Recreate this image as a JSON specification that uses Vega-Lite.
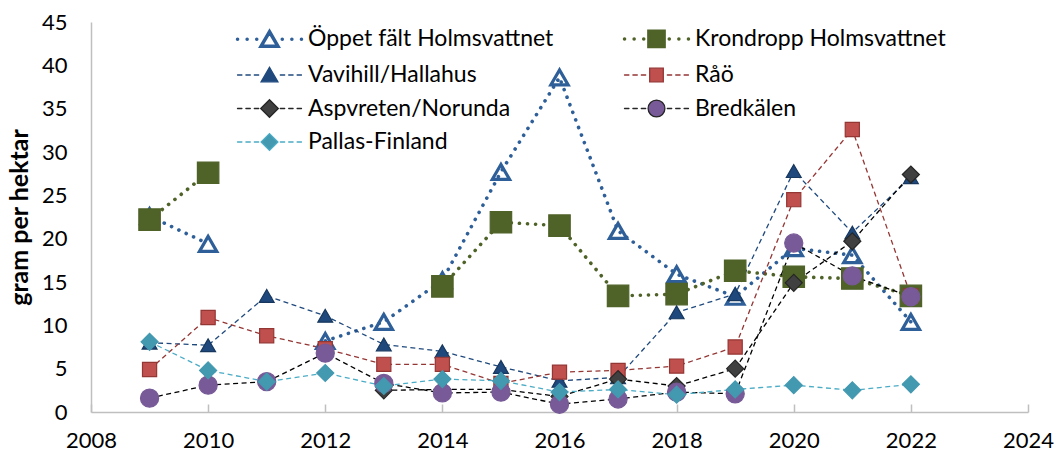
{
  "$schema": "https://vega.github.io/schema/vega-lite/v6.json",
  "width": 937,
  "height": 390,
  "autosize": {"type": "none"},
  "padding": {"left": 91, "top": 22, "right": 33, "bottom": 48},
  "background": "white",
  "config": {
    "view": {"stroke": null},
    "font": "Lato",
    "axis": {"grid": false, "labelFont": "Lato", "labelFontSize": 22, "labelColor": "#000000", "domainColor": "#BFBFBF", "domainWidth": 1.5, "tickColor": "#BFBFBF", "tickWidth": 1.5, "titleFont": "Lato"},
    "legend": {"orient": "none", "legendX": 143, "legendY": 5, "columns": 2, "direction": "horizontal", "symbolSize": 256, "symbolOffset": 24, "labelOffset": 27, "labelFont": "Lato", "labelFontSize": 23, "labelColor": "#000000", "labelLimit": 500, "rowPadding": 9.5, "columnPadding": 63, "padding": 0, "symbolStrokeWidth": 1.3, "symbolOpacity": 1}
  },
  "data": {
    "values": [
      {"year": 2009, "series": "Öppet fält Holmsvattnet", "value": 22.6},
      {"year": 2010, "series": "Öppet fält Holmsvattnet", "value": 19.4},
      {"year": 2011, "series": "Öppet fält Holmsvattnet", "value": null},
      {"year": 2012, "series": "Öppet fält Holmsvattnet", "value": 8.2},
      {"year": 2013, "series": "Öppet fält Holmsvattnet", "value": 10.4},
      {"year": 2014, "series": "Öppet fält Holmsvattnet", "value": 15.2},
      {"year": 2015, "series": "Öppet fält Holmsvattnet", "value": 27.7},
      {"year": 2016, "series": "Öppet fält Holmsvattnet", "value": 38.6},
      {"year": 2017, "series": "Öppet fält Holmsvattnet", "value": 20.9},
      {"year": 2018, "series": "Öppet fält Holmsvattnet", "value": 15.9},
      {"year": 2019, "series": "Öppet fält Holmsvattnet", "value": 13.3},
      {"year": 2020, "series": "Öppet fält Holmsvattnet", "value": 18.9},
      {"year": 2021, "series": "Öppet fält Holmsvattnet", "value": 18.1},
      {"year": 2022, "series": "Öppet fält Holmsvattnet", "value": 10.4},
      {"year": 2009, "series": "Krondropp Holmsvattnet", "value": 22.2},
      {"year": 2010, "series": "Krondropp Holmsvattnet", "value": 27.6},
      {"year": 2011, "series": "Krondropp Holmsvattnet", "value": null},
      {"year": 2012, "series": "Krondropp Holmsvattnet", "value": null},
      {"year": 2013, "series": "Krondropp Holmsvattnet", "value": null},
      {"year": 2014, "series": "Krondropp Holmsvattnet", "value": 14.5},
      {"year": 2015, "series": "Krondropp Holmsvattnet", "value": 21.9},
      {"year": 2016, "series": "Krondropp Holmsvattnet", "value": 21.5},
      {"year": 2017, "series": "Krondropp Holmsvattnet", "value": 13.4},
      {"year": 2018, "series": "Krondropp Holmsvattnet", "value": 13.6},
      {"year": 2019, "series": "Krondropp Holmsvattnet", "value": 16.3},
      {"year": 2020, "series": "Krondropp Holmsvattnet", "value": 15.6},
      {"year": 2021, "series": "Krondropp Holmsvattnet", "value": 15.4},
      {"year": 2022, "series": "Krondropp Holmsvattnet", "value": 13.4},
      {"year": 2009, "series": "Vavihill/Hallahus", "value": 8.0},
      {"year": 2010, "series": "Vavihill/Hallahus", "value": 7.7},
      {"year": 2011, "series": "Vavihill/Hallahus", "value": 13.4},
      {"year": 2012, "series": "Vavihill/Hallahus", "value": 11.1},
      {"year": 2013, "series": "Vavihill/Hallahus", "value": 7.8},
      {"year": 2014, "series": "Vavihill/Hallahus", "value": 7.0},
      {"year": 2015, "series": "Vavihill/Hallahus", "value": 5.2},
      {"year": 2016, "series": "Vavihill/Hallahus", "value": 3.6},
      {"year": 2017, "series": "Vavihill/Hallahus", "value": 4.0},
      {"year": 2018, "series": "Vavihill/Hallahus", "value": 11.5},
      {"year": 2019, "series": "Vavihill/Hallahus", "value": 13.6},
      {"year": 2020, "series": "Vavihill/Hallahus", "value": 27.8},
      {"year": 2021, "series": "Vavihill/Hallahus", "value": 20.7},
      {"year": 2022, "series": "Vavihill/Hallahus", "value": 27.1},
      {"year": 2009, "series": "Råö", "value": 4.9},
      {"year": 2010, "series": "Råö", "value": 10.9},
      {"year": 2011, "series": "Råö", "value": 8.8},
      {"year": 2012, "series": "Råö", "value": 7.3},
      {"year": 2013, "series": "Råö", "value": 5.5},
      {"year": 2014, "series": "Råö", "value": 5.5},
      {"year": 2015, "series": "Råö", "value": 3.3},
      {"year": 2016, "series": "Råö", "value": 4.6},
      {"year": 2017, "series": "Råö", "value": 4.8},
      {"year": 2018, "series": "Råö", "value": 5.3},
      {"year": 2019, "series": "Råö", "value": 7.5},
      {"year": 2020, "series": "Råö", "value": 24.5},
      {"year": 2021, "series": "Råö", "value": 32.6},
      {"year": 2022, "series": "Råö", "value": 13.4},
      {"year": 2013, "series": "Aspvreten/Norunda", "value": 2.5},
      {"year": 2014, "series": "Aspvreten/Norunda", "value": 2.6},
      {"year": 2015, "series": "Aspvreten/Norunda", "value": 2.6},
      {"year": 2016, "series": "Aspvreten/Norunda", "value": 1.8},
      {"year": 2017, "series": "Aspvreten/Norunda", "value": 3.8},
      {"year": 2018, "series": "Aspvreten/Norunda", "value": 3.0},
      {"year": 2019, "series": "Aspvreten/Norunda", "value": 5.0},
      {"year": 2020, "series": "Aspvreten/Norunda", "value": 14.9},
      {"year": 2021, "series": "Aspvreten/Norunda", "value": 19.7},
      {"year": 2022, "series": "Aspvreten/Norunda", "value": 27.4},
      {"year": 2009, "series": "Bredkälen", "value": 1.6},
      {"year": 2010, "series": "Bredkälen", "value": 3.1},
      {"year": 2011, "series": "Bredkälen", "value": 3.5},
      {"year": 2012, "series": "Bredkälen", "value": 6.8},
      {"year": 2013, "series": "Bredkälen", "value": 3.3},
      {"year": 2014, "series": "Bredkälen", "value": 2.2},
      {"year": 2015, "series": "Bredkälen", "value": 2.3},
      {"year": 2016, "series": "Bredkälen", "value": 0.9},
      {"year": 2017, "series": "Bredkälen", "value": 1.5},
      {"year": 2018, "series": "Bredkälen", "value": 2.3},
      {"year": 2019, "series": "Bredkälen", "value": 2.1},
      {"year": 2020, "series": "Bredkälen", "value": 19.5},
      {"year": 2021, "series": "Bredkälen", "value": 15.7},
      {"year": 2022, "series": "Bredkälen", "value": 13.3},
      {"year": 2009, "series": "Pallas-Finland", "value": 8.1},
      {"year": 2010, "series": "Pallas-Finland", "value": 4.8},
      {"year": 2011, "series": "Pallas-Finland", "value": 3.5},
      {"year": 2012, "series": "Pallas-Finland", "value": 4.5},
      {"year": 2013, "series": "Pallas-Finland", "value": 3.0},
      {"year": 2014, "series": "Pallas-Finland", "value": 3.8},
      {"year": 2015, "series": "Pallas-Finland", "value": 3.6},
      {"year": 2016, "series": "Pallas-Finland", "value": 2.3},
      {"year": 2017, "series": "Pallas-Finland", "value": 2.6},
      {"year": 2018, "series": "Pallas-Finland", "value": 2.0},
      {"year": 2019, "series": "Pallas-Finland", "value": 2.6},
      {"year": 2020, "series": "Pallas-Finland", "value": 3.1},
      {"year": 2021, "series": "Pallas-Finland", "value": 2.5},
      {"year": 2022, "series": "Pallas-Finland", "value": 3.2}
    ]
  },
  "encoding": {
    "x": {
      "field": "year", "type": "quantitative",
      "scale": {"domain": [2008, 2024], "nice": false, "zero": false},
      "axis": {"title": null, "values": [2008, 2010, 2012, 2014, 2016, 2018, 2020, 2022, 2024], "format": "d", "labelFlush": false, "tickSize": -8, "labelPadding": 26}
    },
    "y": {
      "field": "value", "type": "quantitative",
      "scale": {"domain": [0, 45], "nice": false},
      "axis": {"title": "gram per hektar", "titleFontSize": 25, "titleFontWeight": "bold", "titleColor": "#000000", "titlePadding": 9, "values": [0, 5, 10, 15, 20, 25, 30, 35, 40, 45], "ticks": false, "labelPadding": 24}
    }
  },
  "layer": [
    {
      "transform": [{"filter": {"field": "series", "oneOf": ["Öppet fält Holmsvattnet", "Krondropp Holmsvattnet"]}}],
      "mark": {"type": "line", "strokeWidth": 3.6, "strokeDash": [0.1, 8], "strokeCap": "round"},
      "encoding": {
        "stroke": {"field": "series", "type": "nominal", "legend": null,
          "scale": {"domain": ["Öppet fält Holmsvattnet", "Krondropp Holmsvattnet"], "range": ["#2F5F98", "#4F6228"]}},
        "detail": {"field": "series"}
      }
    },
    {
      "transform": [{"filter": {"field": "series", "oneOf": ["Vavihill/Hallahus", "Råö", "Aspvreten/Norunda", "Bredkälen", "Pallas-Finland"]}}],
      "mark": {"type": "line", "strokeWidth": 1.3, "strokeDash": [5, 3.5]},
      "encoding": {
        "stroke": {"field": "series", "type": "nominal", "legend": null,
          "scale": {"domain": ["Vavihill/Hallahus", "Råö", "Aspvreten/Norunda", "Bredkälen", "Pallas-Finland"], "range": ["#1F497D", "#943634", "#000000", "#000000", "#4BACC6"]}},
        "detail": {"field": "series"}
      }
    },
    {
      "mark": {"type": "point", "filled": true, "opacity": 1},
      "encoding": {
        "shape": {"field": "series", "type": "nominal", "legend": null,
          "scale": {"domain": ["Öppet fält Holmsvattnet", "Krondropp Holmsvattnet", "Vavihill/Hallahus", "Råö", "Aspvreten/Norunda", "Bredkälen", "Pallas-Finland"],
                    "range": ["triangle-up", "square", "triangle-up", "square", "diamond", "circle", "diamond"]}},
        "fill": {"field": "series", "type": "nominal", "legend": null,
          "scale": {"domain": ["Öppet fält Holmsvattnet", "Krondropp Holmsvattnet", "Vavihill/Hallahus", "Råö", "Aspvreten/Norunda", "Bredkälen", "Pallas-Finland"],
                    "range": ["transparent", "#4F6228", "#1F497D", "#C0504D", "#404040", "#775A97", "#4399B0"]}},
        "stroke": {"field": "series", "type": "nominal", "legend": null,
          "scale": {"domain": ["Öppet fält Holmsvattnet", "Krondropp Holmsvattnet", "Vavihill/Hallahus", "Råö", "Aspvreten/Norunda", "Bredkälen", "Pallas-Finland"],
                    "range": ["#2F5F98", "#4F6228", "#17375E", "#943634", "#262626", "#775A97", "#4399B0"]}},
        "strokeWidth": {"condition": {"test": "datum.series === 'Öppet fält Holmsvattnet'", "value": 3.2}, "value": 1.2},
        "size": {"condition": [
          {"test": "datum.series === 'Öppet fält Holmsvattnet'", "value": 300},
          {"test": "datum.series === 'Krondropp Holmsvattnet'", "value": 460},
          {"test": "datum.series === 'Vavihill/Hallahus'", "value": 220},
          {"test": "datum.series === 'Råö'", "value": 200},
          {"test": "datum.series === 'Bredkälen'", "value": 330}
        ], "value": 290}
      }
    },
    {
      "transform": [{"filter": "false"}],
      "mark": {"type": "point", "filled": true, "opacity": 1},
      "encoding": {
        "shape": {"field": "series", "type": "nominal",
          "scale": {"domain": ["Öppet fält Holmsvattnet", "Krondropp Holmsvattnet", "Vavihill/Hallahus", "Råö", "Aspvreten/Norunda", "Bredkälen", "Pallas-Finland"],
                    "range": [
                      "M-4,0L-3.99,0M-2.8,0L-2.79,0M-1.6,0L-1.59,0M1.59,0L1.6,0M2.79,0L2.8,0M3.99,0L4,0M0,-0.95L1.05,0.85L-1.05,0.85Z",
                      "M-4,0L-3.99,0M-2.8,0L-2.79,0M-1.6,0L-1.59,0M1.59,0L1.6,0M2.79,0L2.8,0M3.99,0L4,0M-0.95,-0.95L0.95,-0.95L0.95,0.95L-0.95,0.95Z",
                      "M-4,0L-3.45,0M-2.95,0L-2.4,0M-1.9,0L-1.35,0M1.35,0L1.9,0M2.4,0L2.95,0M3.45,0L4,0M0,-0.95L1.05,0.85L-1.05,0.85Z",
                      "M-4,0L-3.45,0M-2.95,0L-2.4,0M-1.9,0L-1.35,0M1.35,0L1.9,0M2.4,0L2.95,0M3.45,0L4,0M-0.85,-0.85L0.85,-0.85L0.85,0.85L-0.85,0.85Z",
                      "M-4,0L-3.45,0M-2.95,0L-2.4,0M-1.9,0L-1.35,0M1.35,0L1.9,0M2.4,0L2.95,0M3.45,0L4,0M0,-1.1L1.1,0L0,1.1L-1.1,0Z",
                      "M-4,0L-3.45,0M-2.95,0L-2.4,0M-1.9,0L-1.35,0M1.35,0L1.9,0M2.4,0L2.95,0M3.45,0L4,0M1.05,0A1.05,1.05,0,1,1,-1.05,0A1.05,1.05,0,1,1,1.05,0Z",
                      "M-4,0L-3.45,0M-2.95,0L-2.4,0M-1.9,0L-1.35,0M1.35,0L1.9,0M2.4,0L2.95,0M3.45,0L4,0M0,-1.05L1.05,0L0,1.05L-1.05,0Z"
                    ]},
          "legend": {"title": null,
            "encode": {"symbols": {"update": {"strokeWidth": {"signal": "datum.value === 'Öppet fält Holmsvattnet' || datum.value === 'Krondropp Holmsvattnet' ? 3.5 : 1.3"}, "strokeCap": {"value": "round"}}}}}
        },
        "fill": {"field": "series", "type": "nominal",
          "scale": {"domain": ["Öppet fält Holmsvattnet", "Krondropp Holmsvattnet", "Vavihill/Hallahus", "Råö", "Aspvreten/Norunda", "Bredkälen", "Pallas-Finland"],
                    "range": ["transparent", "#4F6228", "#1F497D", "#C0504D", "#404040", "#775A97", "#4399B0"]},
          "legend": {"title": null,
            "encode": {"symbols": {"update": {"strokeWidth": {"signal": "datum.value === 'Öppet fält Holmsvattnet' || datum.value === 'Krondropp Holmsvattnet' ? 3.5 : 1.3"}, "strokeCap": {"value": "round"}}}}}
        },
        "stroke": {"field": "series", "type": "nominal",
          "scale": {"domain": ["Öppet fält Holmsvattnet", "Krondropp Holmsvattnet", "Vavihill/Hallahus", "Råö", "Aspvreten/Norunda", "Bredkälen", "Pallas-Finland"],
                    "range": ["#2F5F98", "#4F6228", "#1F497D", "#943634", "#262626", "#262626", "#4BACC6"]},
          "legend": {"title": null,
            "encode": {"symbols": {"update": {"strokeWidth": {"signal": "datum.value === 'Öppet fält Holmsvattnet' || datum.value === 'Krondropp Holmsvattnet' ? 3.5 : 1.3"}, "strokeCap": {"value": "round"}}}}}
        }
      }
    }
  ],
  "resolve": {"scale": {"stroke": "independent", "shape": "independent", "fill": "independent"}}
}
